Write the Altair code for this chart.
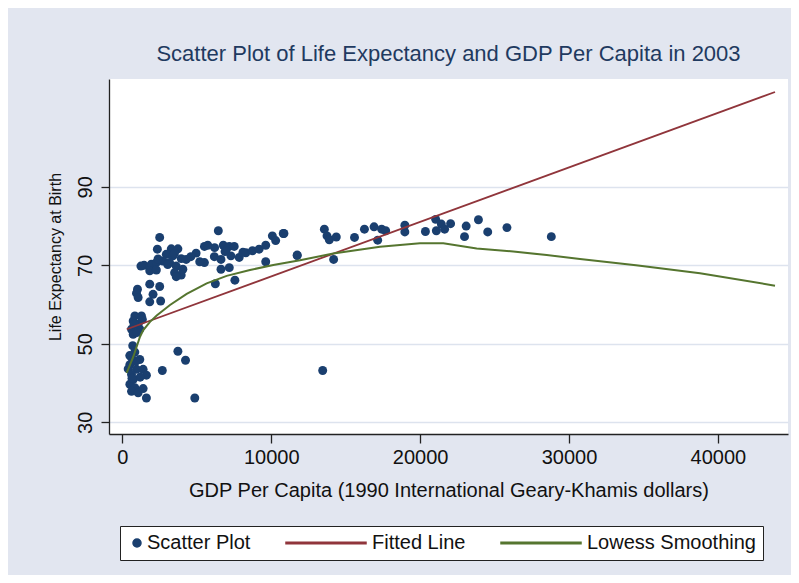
import altair as alt
import pandas as pd

# ---- data ----
gdp = [2510, 6449, 10811, 2355, 3289, 3734, 2955, 3400, 3957, 4290, 4958, 5515, 5737, 6783,
       7184, 7517, 6961, 7295, 7851, 8296, 8741, 9186, 9632, 10077, 11746, 1465, 1954, 2288,
       2733, 3178, 3623, 4068, 5515, 6182, 6627, 6627, 7184, 9632, 1843, 2288, 3512, 3957,
       3623, 1020, 953, 1064, 1843, 2510, 2065, 1843, 2577, 842, 1287, 730, 1064, 619, 1175,
       730, 6249, 7562, 842, 619, 1175, 508, 396, 953, 1398, 619, 730, 1620, 508, 842, 619,
       1064, 1620, 3734, 4246, 2688, 4869,
       10855, 11745, 13570, 13748, 13903, 14371, 14193, 15595, 16262, 16908, 17420, 17686,
       17152, 18977, 18977, 20357, 21047, 21092, 21426, 21648, 22048, 23094, 22983, 23918,
       24541, 25832, 28813, 13458,
       1250, 2400, 3050, 3500, 4600, 5200, 6200, 6900, 8100, 10300, 700, 500, 900, 1200,
       650, 1400, 800, 1350, 1000]
life = [77.1, 78.8, 78.1, 74.1, 74.2, 74.2, 72.8, 72.4, 71.7, 71.5, 73.1, 74.8, 75.1, 75.1,
        74.8, 74.8, 73.7, 72.4, 72.0, 73.2, 73.7, 74.1, 75.1, 77.5, 72.6, 70.0, 70.3, 70.7,
        71.1, 70.7, 69.8, 69.0, 70.7, 72.2, 71.5, 69.0, 69.4, 70.9, 68.6, 68.8, 68.1, 67.5,
        67.1, 63.9, 62.9, 61.8, 65.2, 64.6, 62.6, 60.7, 60.9, 57.1, 57.1, 55.8, 55.0, 53.7,
        53.7, 52.4, 65.3, 66.2, 47.9, 46.5, 46.0, 44.7, 43.6, 43.5, 43.5, 42.2, 40.9, 42.0,
        39.7, 38.8, 37.9, 37.5, 36.2, 48.1, 45.8, 43.2, 36.2,
        78.1, 72.5, 79.2, 77.5, 76.5, 77.2, 71.5, 77.1, 79.2, 79.8, 79.2, 78.8, 76.4, 80.2,
        78.5, 78.6, 81.7, 78.8, 80.5, 79.2, 80.6, 80.0, 77.3, 81.6, 78.5, 79.6, 77.3, 43.2,
        69.8, 71.6, 70.2, 73.0, 72.2, 70.9, 74.5, 73.5, 73.3, 76.3, 49.5, 47.0, 45.5, 41.5,
        41.2, 38.6, 55.0, 56.2, 52.9]

fit_x = [296, 43836]
fit_y = [53.7, 114.15]

lowess_x = [296, 739, 1189, 1410, 1860, 2310, 3204, 4325, 5668, 7011, 8576, 10141, 11935,
            14171, 17307, 19993, 21558, 23801, 26259, 28502, 30739, 34500, 38799, 43836]
lowess_y = [42.6, 46.7, 51.8, 53.5, 55.6, 57.2, 59.9, 62.7, 65.4, 67.3, 68.8, 70.1, 71.3,
            73.0, 74.7, 75.6, 75.6, 74.3, 73.5, 72.6, 71.6, 70.0, 68.0, 64.8]

series = ["Scatter Plot", "Fitted Line", "Lowess Smoothing"]
colors = ["#1A3F6F", "#90353B", "#55752F"]
x_ticks = [0, 10000, 20000, 30000, 40000]
y_ticks = [30, 50, 70, 90]

pts = pd.DataFrame({"gdp": gdp, "life": life, "series": series[0]})
fit = pd.DataFrame({"gdp": fit_x, "life": fit_y, "series": series[1]})
low = pd.DataFrame({"gdp": lowess_x, "life": lowess_y, "series": series[2]})

FONT = "Liberation Sans"
line_path = "M-19,-0.2L1,-0.2L1,0.2L-19,0.2Z"

xs = alt.Scale(domain=[-893, 44708], nice=False, zero=False)
ys = alt.Scale(domain=[27.02, 117.46], nice=False, zero=False)
cs = alt.Scale(domain=series, range=colors)

x_enc = alt.X("gdp:Q", scale=xs,
              axis=alt.Axis(values=x_ticks, format="d", grid=False, tickSize=9,
                            tickColor="#222", domainColor="#222", domainWidth=1.3,
                            tickWidth=1.3, labelFontSize=20, labelFont=FONT,
                            labelColor="#111", labelPadding=4,
                            title="GDP Per Capita (1990 International Geary-Khamis dollars)",
                            titleFontSize=20, titleFont=FONT, titleFontWeight="normal",
                            titleColor="#111", titleX=339.5, titleY=62,
                            titleAlign="center", titleBaseline="alphabetic"))
y_enc = alt.Y("life:Q", scale=ys,
              axis=alt.Axis(values=y_ticks, grid=True, gridColor="#DDE3EE", gridWidth=1.5,
                            tickSize=8, tickColor="#222", tickWidth=1.3,
                            domainColor="#222", domainWidth=1.3,
                            labelAngle=270, labelAlign="center", labelBaseline="alphabetic",
                            labelPadding=10, labelFontSize=20, labelFont=FONT,
                            labelColor="#111",
                            title="Life Expectancy at Birth", titleFontSize=16,
                            titleFont=FONT, titleFontWeight="normal", titleColor="#111",
                            titleAngle=270, titleX=-54, titleY=177.5,
                            titleAlign="center", titleBaseline="middle"))

points = alt.Chart(pts).mark_point(filled=True, opacity=1, size=80).encode(
    x=x_enc, y=y_enc,
    color=alt.Color("series:N", scale=cs,
                    legend=alt.Legend(title=None, orient="none", legendX=11, legendY=447,
                                      direction="horizontal", columns=3,
                                      fillColor="white", strokeColor="#222", padding=7,
                                      columnPadding=32, symbolSize=64, labelOffset=0,
                                      labelFontSize=20, labelFont=FONT, labelColor="#111",
                                      labelLimit=400, symbolOpacity=1)),
    shape=alt.Shape("series:N",
                    scale=alt.Scale(domain=series, range=["circle", line_path, line_path]),
                    legend=None),
)

fit_line = alt.Chart(fit).mark_line(strokeWidth=1.8).encode(
    x="gdp:Q", y="life:Q", color=alt.Color("series:N", scale=cs, legend=None))
low_line = alt.Chart(low).mark_line(strokeWidth=2).encode(
    x="gdp:Q", y="life:Q", color=alt.Color("series:N", scale=cs, legend=None))

chart = alt.layer(points, fit_line, low_line).properties(
    width=679, height=355,
    title=alt.TitleParams("Scatter Plot of Life Expectancy and GDP Per Capita in 2003",
                          fontSize=22, font=FONT, fontWeight="normal", color="#1F3A60",
                          anchor="middle", offset=13),
    autosize=alt.AutoSizeParams(type="none"),
    padding={"left": 101, "top": 71, "right": 3, "bottom": 141},
    background="#E2E6F0",
).configure_view(fill="white", stroke=None)

chart.save("out.html", embed_options={"renderer": "svg", "actions": False})
